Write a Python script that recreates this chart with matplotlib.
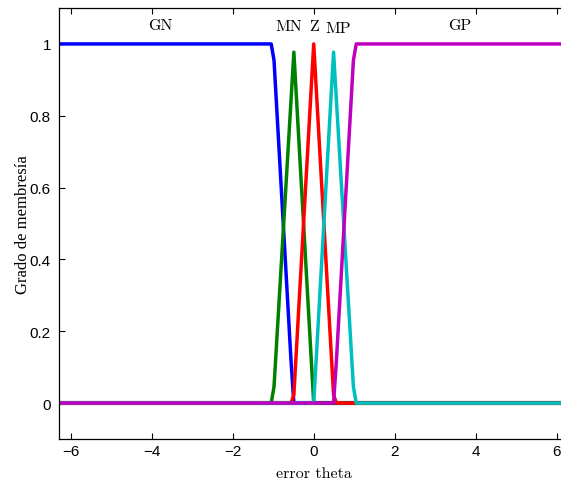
import numpy as np
import matplotlib
matplotlib.use("Agg")
import matplotlib.pyplot as plt

# Membership function vertices
gn_x = [-6.2832, -1.05, -0.98, -0.56, -0.49, 6.2832]
gn_y = [1.0, 1.0, 0.954, 0.117, 0.0, 0.0]
mn_x = [-6.2832, -1.05, -0.98, -0.49, 0.0, 6.2832]
mn_y = [0.0, 0.0, 0.046, 0.977, 0.0, 0.0]
z_x = [-6.2832, -0.56, -0.49, 0.0, 0.49, 0.56, 6.2832]
z_y = [0.0, 0.0, 0.023, 1.0, 0.023, 0.0, 0.0]
mp_x = [-6.2832, 0.0, 0.49, 0.98, 1.05, 6.2832]
mp_y = [0.0, 0.0, 0.977, 0.046, 0.0, 0.0]
gp_x = [-6.2832, 0.49, 0.56, 0.98, 1.05, 6.2832]
gp_y = [0.0, 0.0, 0.117, 0.954, 1.0, 1.0]

labels = ["GN", "MN", "Z", "MP", "GP"]
label_x = [-3.78, -0.62, 0.0, 0.6, 3.6]
label_y = [1.052, 1.05, 1.05, 1.045, 1.052]

xticks = [-6, -4, -2, 0, 2, 4, 6]
yticks = [0, 0.2, 0.4, 0.6, 0.8, 1]

fig = plt.figure(figsize=(5.61, 4.85), dpi=100)
ax = fig.add_axes([0.1057, 0.0928, 0.907, 0.8886])

ax.axhline(0, color="#a8a8a8", lw=3.2, zorder=1)
lw = 2.5
ax.plot(gn_x, gn_y, color=(0, 0, 1), lw=lw, zorder=2)
ax.plot(mn_x, mn_y, color=(0, 0.5, 0), lw=lw, zorder=2)
ax.plot(z_x, z_y, color=(1, 0, 0), lw=lw, zorder=2)
ax.plot(mp_x, mp_y, color=(0, 0.75, 0.75), lw=lw, zorder=2)
ax.plot(gp_x, gp_y, color=(0.75, 0, 0.75), lw=lw, zorder=2)

serif = ["cmr10", "DejaVu Serif"]
for t, x, y in zip(labels, label_x, label_y):
    ax.text(x, y, t, ha="center", va="center", fontsize=11.5, family=serif)

ax.set_xlim(-2 * np.pi, 2 * np.pi)
ax.set_ylim(-0.1, 1.1)
ax.set_xticks(xticks)
ax.set_yticks(yticks)
ax.set_yticklabels(["0", "0.2", "0.4", "0.6", "0.8", "1"])
ax.tick_params(direction="in", top=True, right=True, length=4, width=0.8,
               labelsize=11)
ax.tick_params(axis="y", pad=6)
for lab in ax.get_xticklabels() + ax.get_yticklabels():
    lab.set_family("Liberation Sans")
for s in ax.spines.values():
    s.set_linewidth(0.9)

ax.set_xlabel("error theta", family=serif, fontsize=11.5, labelpad=6)
ax.set_ylabel("Grado de membresía", family=["Liberation Serif"], fontsize=12, labelpad=-1)

fig.savefig("out.png", dpi=100)
